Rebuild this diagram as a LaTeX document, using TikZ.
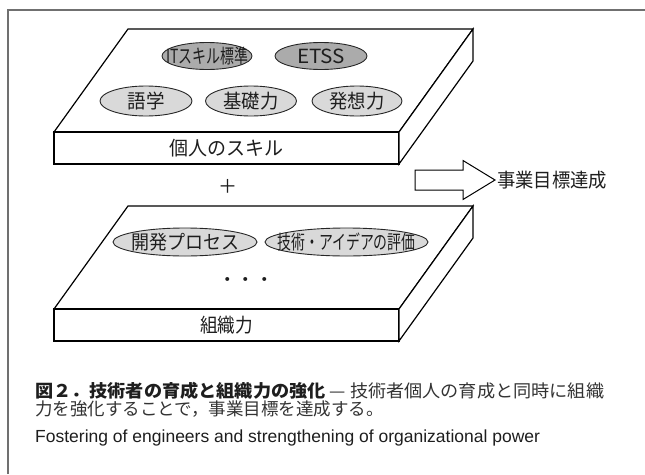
\documentclass[tikz,border=0pt]{standalone}
\usepackage{fontspec}
\setmainfont{Noto Sans CJK JP}
\newfontfamily\enfont{Liberation Sans}
\usetikzlibrary{shapes.geometric}
\definecolor{dk}{HTML}{ABABAB}
\definecolor{lt}{HTML}{D9D9D9}
\definecolor{framec}{HTML}{707070}
\definecolor{txt}{HTML}{1E1E1E}
\definecolor{txtb}{HTML}{333333}
\newcommand{\fitw}[2]{\resizebox{#1}{\height}{#2}}
\begin{document}
\begin{tikzpicture}[x=1pt,y=-1pt,
  slab/.style={draw=black, line width=1.2pt, fill=white},
  oval/.style={ellipse, draw=black!85, line width=0.9pt, inner sep=0pt},
  darkoval/.style={oval, fill=dk},
  lightoval/.style={oval, fill=lt},
  lbl/.style={font=\fontsize{19.5}{20}\selectfont, text=txt, inner sep=0pt},
  captext/.style={font=\fontsize{17.5}{18}\selectfont, text=txt, inner sep=0pt, anchor=west},
  blockarrow/.style={draw=black, line width=1pt, fill=white}
]
\useasboundingbox (0,0) rectangle (645,474);
\fill[white] (0,0) rectangle (645,474);
\draw[framec, line width=1.3pt] (8,474) -- (8,10) -- (645,10);

% top slab
\draw[slab] (128,29) -- (473,29) -- (399,132) -- (54,132) -- cycle;
\draw[slab] (54,132) rectangle (399,164);
\draw[slab] (399,132) -- (473,29) -- (473,61) -- (399,164) -- cycle;

\node[darkoval, minimum width=90pt, minimum height=27pt] (it) at (207,56) {};
\node[lbl] (itT) at (it) {\fitw{82pt}{ITスキル標準}};
\node[darkoval, minimum width=92pt, minimum height=27pt] (etss) at (321,56) {};
\node[lbl] (etssT) at (etss) {\fitw{48pt}{ETSS}};
\node[lightoval, minimum width=92pt, minimum height=30pt] (gogaku) at (146,101) {};
\node[lbl] (gogakuT) at (gogaku) {\fitw{37pt}{語学}};
\node[lightoval, minimum width=91pt, minimum height=30pt] (kiso) at (251,101) {};
\node[lbl] (kisoT) at (kiso) {\fitw{55pt}{基礎力}};
\node[lightoval, minimum width=90pt, minimum height=30pt] (hasso) at (357,101) {};
\node[lbl] (hassoT) at (hasso) {\fitw{55pt}{発想力}};
\node[lbl] (kojin) at (226.5,148) {\fitw{114pt}{個人のスキル}};

% plus
\node[lbl, font=\fontsize{19}{20}\selectfont] (plus) at (228,186) {＋};

% arrow
\draw[blockarrow] (415,170) -- (463,170) -- (463,160.5) -- (495,180) -- (463,199.5) -- (463,190) -- (415,190) -- cycle;
\node[lbl, anchor=west] (goal) at (497,180) {\fitw{110pt}{事業目標達成}};

% lower slab
\draw[slab] (128,206) -- (473,206) -- (399,309) -- (54,309) -- cycle;
\draw[slab] (54,309) rectangle (399,341);
\draw[slab] (399,309) -- (473,206) -- (473,238) -- (399,341) -- cycle;

\node[lightoval, minimum width=144pt, minimum height=28pt] (kaihatsu) at (185,242) {};
\node[lbl] (kaihatsuT) at (kaihatsu) {\fitw{108pt}{開発プロセス}};
\node[lightoval, minimum width=163pt, minimum height=28pt] (hyoka) at (346.5,242) {};
\node[lbl] (hyokaT) at (hyoka) {\fitw{138pt}{技術・アイデアの評価}};
\node[lbl, font=\fontsize{18.5}{20}\selectfont] (dots) at (246,282) {・・・};
\node[lbl] (soshiki) at (226.5,325) {\fitw{53pt}{組織力}};

% caption
\node[captext] (cap1) at (35,391) {\fitw{569pt}{{\bfseries 図２．技術者の育成と組織力の強化} {\color{txtb}— 技術者個人の育成と同時に組織}}};
\node[captext] (cap2) at (35,409) {\color{txtb}力を強化することで，事業目標を達成する。};
\node[captext, font=\enfont\fontsize{17.5}{18}\selectfont] (cap3) at (35,438) {Fostering of engineers and strengthening of organizational power};
\end{tikzpicture}
\end{document}
